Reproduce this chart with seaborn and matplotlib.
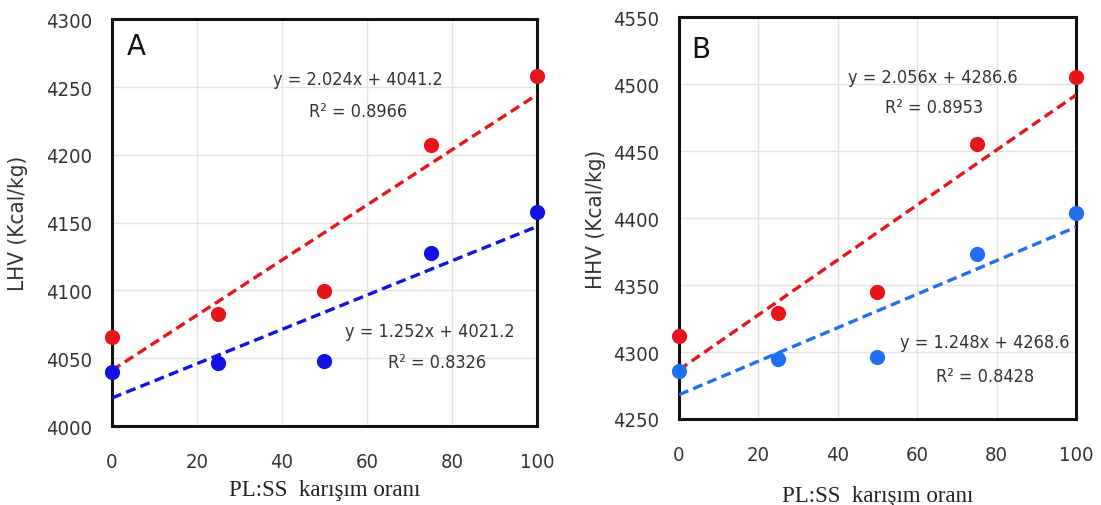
import numpy as np
import pandas as pd
import matplotlib
matplotlib.use("Agg")
import matplotlib.pyplot as plt
import seaborn as sns

# ---- data ----
ratio = [0, 25, 50, 75, 100]
lhv_red = [4066, 4083, 4099.6, 4207, 4258]
lhv_blue = [4040, 4046.5, 4048, 4127.6, 4157.5]
hhv_red = [4312, 4329, 4345, 4455, 4505.5]
hhv_blue = [4286, 4295, 4296, 4373, 4403.5]

lhv_red_eq = ["y = 2.024x + 4041.2", "R² = 0.8966"]
lhv_blue_eq = ["y = 1.252x + 4021.2", "R² = 0.8326"]
hhv_red_eq = ["y = 2.056x + 4286.6", "R² = 0.8953"]
hhv_blue_eq = ["y = 1.248x + 4268.6", "R² = 0.8428"]

x_ticks = [0, 20, 40, 60, 80, 100]
lhv_ticks = [4000, 4050, 4100, 4150, 4200, 4250, 4300]
hhv_ticks = [4250, 4300, 4350, 4400, 4450, 4500, 4550]

sns.set_theme(style="white")
SANS = ["DejaVu Sans"]
SERIF = ["Liberation Serif", "DejaVu Serif"]
plt.rcParams["font.family"] = SANS
plt.rcParams["font.stretch"] = "condensed"

fig = plt.figure(figsize=(11.01, 5.06), dpi=100)
axA = fig.add_axes([0.1017, 0.156, 0.386, 0.804])
axB = fig.add_axes([0.6167, 0.170, 0.3606, 0.794])

RED = "#e8141b"
BLUE_A = "#1212e6"
BLUE_B = "#1f6ff0"


def panel(ax, red, blue, blue_col, ticks, ylabel, letter, red_eq, blue_eq,
          red_pos, blue_pos, letter_pos, ylab_x, xlab_y):
    df = pd.DataFrame({"x": ratio, "red": red, "blue": blue})
    for col, c in (("red", RED), ("blue", blue_col)):
        sns.regplot(data=df, x="x", y=col, ax=ax, ci=None, color=c,
                    scatter_kws={"s": 120, "clip_on": False, "zorder": 5,
                                 "linewidths": 0, "alpha": 1},
                    line_kws={"ls": (0, (3, 1.6)), "lw": 2.4, "zorder": 4})
    ax.set_xlim(0, 100)
    ax.set_ylim(ticks[0], ticks[-1])
    ax.set_xticks(x_ticks)
    ax.set_yticks(ticks)
    ax.grid(True, color="#e3e3e3", lw=1)
    ax.set_axisbelow(True)
    for s in ax.spines.values():
        s.set_color("#111111")
        s.set_linewidth(2.2)
    ax.tick_params(axis="both", length=0, labelsize=14.5, labelcolor="#333333")
    ax.tick_params(axis="x", pad=19)
    ax.tick_params(axis="y", pad=14)
    ax.set_xlabel("PL:SS  karışım oranı", family=SERIF, fontsize=16.5,
                  color="#222222", fontstretch="normal")
    ax.xaxis.set_label_coords(0.5, xlab_y)
    ax.set_ylabel(ylabel, fontsize=16, color="#333333")
    ax.yaxis.set_label_coords(ylab_x, 0.5)
    ax.xaxis.label.set_va("center")
    ax.yaxis.label.set_va("center")
    ax.text(letter_pos[0], letter_pos[1], letter, transform=ax.transAxes,
            fontsize=20, color="#111111", fontstretch="normal",
            ha="left", va="center")
    for eq, pos in ((red_eq, red_pos), (blue_eq, blue_pos)):
        ax.text(pos[0], pos[1], eq[0], transform=ax.transAxes, fontsize=13,
                color="#333333", ha="center", va="center")
        ax.text(pos[2], pos[3], eq[1], transform=ax.transAxes, fontsize=13,
                color="#333333", ha="center", va="center")


panel(axA, lhv_red, lhv_blue, BLUE_A, lhv_ticks, "LHV (Kcal/kg)", "A",
      lhv_red_eq, lhv_blue_eq,
      (0.579, 0.853, 0.579, 0.774), (0.748, 0.233, 0.765, 0.157),
      (0.035, 0.934), -0.221, -0.155)
panel(axB, hhv_red, hhv_blue, BLUE_B, hhv_ticks, "HHV (Kcal/kg)", "B",
      hhv_red_eq, hhv_blue_eq,
      (0.640, 0.851, 0.642, 0.776), (0.771, 0.192, 0.771, 0.107),
      (0.03, 0.92), -0.209, -0.19)

fig.savefig("out.png", dpi=100)
